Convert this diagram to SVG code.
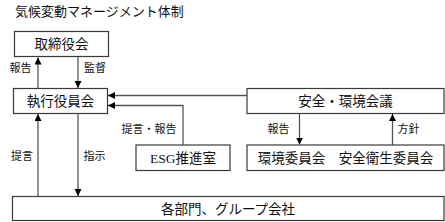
<svg xmlns="http://www.w3.org/2000/svg" width="445" height="222" viewBox="0 0 445 222">
<style>
text{font-family:"Liberation Serif","Noto Sans CJK JP",serif;fill:#111}
.box{fill:#fff;stroke:#3a3a3a;stroke-width:1.2}
.lbl{font-size:13.5px;text-anchor:middle}
.sm{font-size:11px;text-anchor:middle}
.ln{fill:none;stroke:#555;stroke-width:1.3}
</style>
<defs>
<marker id="ah" markerUnits="userSpaceOnUse" markerWidth="8" markerHeight="8" refX="7" refY="3.5" orient="auto">
<path d="M0,0 L7,3.5 L0,7 z" fill="#000"/>
</marker>
</defs>
<text x="15" y="16" style="font-size:13px">気候変動マネージメント体制</text>
<g id="connectors">
<line class="ln" x1="38" y1="88.5" x2="38" y2="57.5" marker-end="url(#ah)"/>
<line class="ln" x1="78" y1="56.5" x2="78" y2="88" marker-end="url(#ah)"/>
<line class="ln" x1="247" y1="95.5" x2="108" y2="95.5" marker-end="url(#ah)"/>
<polyline class="ln" points="183,145 183,105.5 108,105.5" marker-end="url(#ah)"/>
<line class="ln" x1="38" y1="196.5" x2="38" y2="114" marker-end="url(#ah)"/>
<line class="ln" x1="78" y1="113.5" x2="78" y2="196" marker-end="url(#ah)"/>
<line class="ln" x1="299.5" y1="113.5" x2="299.5" y2="144.5" marker-end="url(#ah)"/>
<line class="ln" x1="392.5" y1="145" x2="392.5" y2="114" marker-end="url(#ah)"/>
<text class="sm" x="20.5" y="72">報告</text>
<text class="sm" x="95" y="72">監督</text>
<text class="sm" x="22" y="160">提言</text>
<text class="sm" x="94.5" y="160">指示</text>
<text class="sm" x="149" y="133">提言・報告</text>
<text class="sm" x="278.5" y="133">報告</text>
<text class="sm" x="408.5" y="133">方針</text>
</g>
<g id="board"><rect class="box" x="14.5" y="31.5" width="94" height="25"/><text class="lbl" x="61.5" y="49">取締役会</text></g>
<g id="exec"><rect class="box" x="13.5" y="88.5" width="94" height="25"/><text class="lbl" x="60.5" y="106">執行役員会</text></g>
<g id="safety"><rect class="box" x="247" y="88.5" width="197" height="25"/><text class="lbl" x="345.5" y="106">安全・環境会議</text></g>
<g id="esg"><rect class="box" x="136" y="145" width="94" height="25.5"/><text class="lbl" x="183" y="162.5">ESG推進室</text></g>
<g id="committees"><rect class="box" x="247" y="145" width="197" height="25.5"/><text class="lbl" x="345.5" y="162.5">環境委員会　安全衛生委員会</text></g>
<g id="depts"><rect class="box" x="12.5" y="196.5" width="431.5" height="24"/><text class="lbl" x="228" y="213.5">各部門、グループ会社</text></g>
</svg>
